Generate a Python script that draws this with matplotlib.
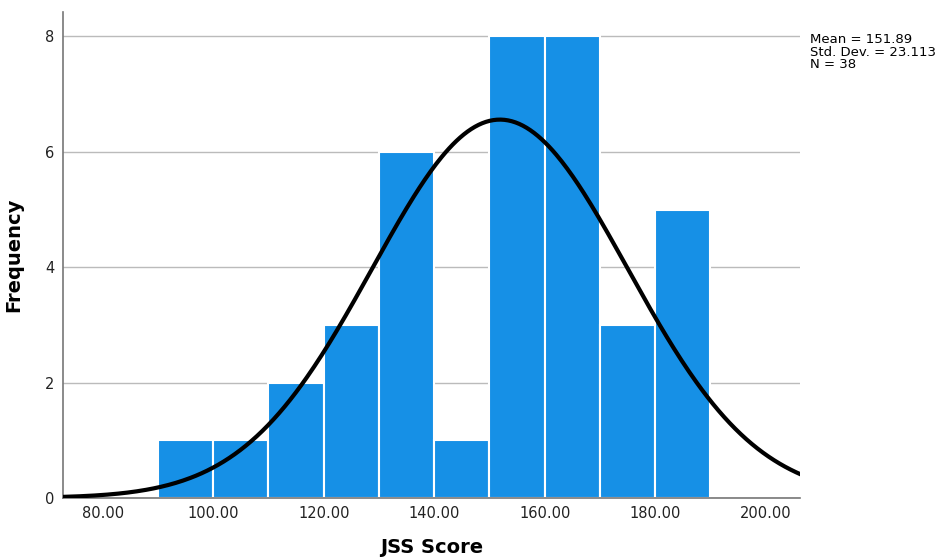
import numpy as np
import matplotlib
matplotlib.use("Agg")
import matplotlib.pyplot as plt

# histogram of JSS Score (bin edges and counts)
bin_edges = [90, 100, 110, 120, 130, 140, 150, 160, 170, 180, 190]
counts = [1, 1, 2, 3, 6, 1, 8, 8, 3, 5]
mean = 151.89
sd = 23.113
n = 38
x_ticks = [80, 100, 120, 140, 160, 180, 200]
y_ticks = [0, 2, 4, 6, 8]

fig = plt.figure(figsize=(9.4, 5.57), dpi=100)
ax = fig.add_axes([0.067, 0.106, 0.784, 0.872])

lefts = bin_edges[:-1]
widths = np.diff(bin_edges)
ax.bar(lefts, counts, width=widths, align="edge", color="#1690E6",
       edgecolor="white", linewidth=1.5, zorder=2)

# normal curve scaled to frequency
bw = widths[0]
xs = np.linspace(72.8, 206.2, 400)
ys = n * bw / (sd * np.sqrt(2 * np.pi)) * np.exp(-0.5 * ((xs - mean) / sd) ** 2)
ax.plot(xs, ys, color="black", linewidth=3, zorder=3)

ax.set_xlim(72.8, 206.2)
ax.set_ylim(0, 8.42)
ax.set_xticks(x_ticks)
ax.set_xticklabels([f"{t:.2f}" for t in x_ticks], fontsize=10.5, color="#222222")
ax.set_yticks(y_ticks)
ax.set_yticklabels([str(t) for t in y_ticks], fontsize=10.5, color="#222222")
ax.tick_params(length=0, pad=6)
ax.yaxis.grid(True, color="#bbbbbb", linewidth=1, zorder=0)
ax.set_axisbelow(True)

for s in ["top", "right"]:
    ax.spines[s].set_visible(False)
for s in ["left", "bottom"]:
    ax.spines[s].set_color("#777777")
    ax.spines[s].set_linewidth(1.2)

ax.set_xlabel("JSS Score", fontsize=14, fontweight="bold", labelpad=12)
ax.set_ylabel("Frequency", fontsize=14, fontweight="bold", labelpad=16)

fig.text(0.862, 0.94, f"Mean = {mean}\nStd. Dev. = {sd}\nN = {n}",
         fontsize=9.5, va="top", ha="left", linespacing=0.95)

fig.savefig("out.png", dpi=100)
